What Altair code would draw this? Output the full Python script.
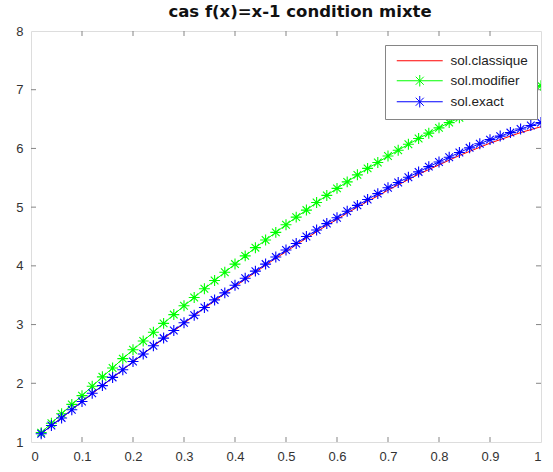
import altair as alt
import pandas as pd

x_vals = [0.02, 0.04, 0.06, 0.08, 0.10, 0.12, 0.14, 0.16, 0.18, 0.20,
          0.22, 0.24, 0.26, 0.28, 0.30, 0.32, 0.34, 0.36, 0.38, 0.40,
          0.42, 0.44, 0.46, 0.48, 0.50, 0.52, 0.54, 0.56, 0.58, 0.60,
          0.62, 0.64, 0.66, 0.68, 0.70, 0.72, 0.74, 0.76, 0.78, 0.80,
          0.82, 0.84, 0.86, 0.88, 0.90, 0.92, 0.94, 0.96, 0.98, 1.00]

sol_classique = [1.14, 1.28, 1.41, 1.55, 1.69, 1.82, 1.96, 2.09, 2.23, 2.36,
                 2.50, 2.63, 2.76, 2.89, 3.02, 3.15, 3.28, 3.40, 3.53, 3.65,
                 3.77, 3.89, 4.01, 4.13, 4.24, 4.36, 4.47, 4.58, 4.69, 4.79,
                 4.90, 5.00, 5.10, 5.19, 5.29, 5.38, 5.47, 5.56, 5.64, 5.72,
                 5.80, 5.88, 5.95, 6.02, 6.09, 6.15, 6.21, 6.27, 6.32, 6.37]

sol_modifier = [1.16, 1.32, 1.48, 1.64, 1.79, 1.95, 2.11, 2.26, 2.42, 2.57,
                2.72, 2.87, 3.02, 3.17, 3.32, 3.46, 3.61, 3.75, 3.89, 4.03,
                4.17, 4.31, 4.44, 4.57, 4.70, 4.83, 4.95, 5.08, 5.20, 5.32,
                5.43, 5.55, 5.66, 5.76, 5.87, 5.97, 6.07, 6.17, 6.26, 6.35,
                6.44, 6.52, 6.60, 6.68, 6.76, 6.83, 6.89, 6.96, 7.01, 7.07]

sol_exact = [1.14, 1.28, 1.41, 1.55, 1.69, 1.83, 1.96, 2.10, 2.23, 2.37,
             2.50, 2.64, 2.77, 2.90, 3.03, 3.16, 3.29, 3.42, 3.54, 3.67,
             3.79, 3.91, 4.03, 4.15, 4.27, 4.38, 4.50, 4.61, 4.72, 4.82,
             4.93, 5.03, 5.13, 5.23, 5.33, 5.42, 5.51, 5.60, 5.69, 5.77,
             5.85, 5.93, 6.01, 6.08, 6.15, 6.21, 6.27, 6.33, 6.39, 6.44]

series_names = ["sol.classique", "sol.modifier", "sol.exact"]
series_colors = ["#ff0000", "#00ff00", "#0000ff"]
x_tick_values = [0, 0.1, 0.2, 0.3, 0.4, 0.5, 0.6, 0.7, 0.8, 0.9, 1]
y_tick_values = [1, 2, 3, 4, 5, 6, 7, 8]
title_text = "cas f(x)=x-1 condition mixte"

W, H = 510, 411
FONT = "Liberation Sans"
TITLE_FONT = "DejaVu Sans"
AXIS_GREY = "#858585"
TICK_LEN = 5

STAR = "M0,-1V1M-1,0H1M-0.7,-0.7L0.7,0.7M-0.7,0.7L0.7,-0.7"
LEG_LINE = "M-4,0H4"
LEG_STAR = "M-4,0H4M0,-1V1M-0.7,-0.7L0.7,0.7M-0.7,0.7L0.7,-0.7"

df_c = pd.DataFrame({"x": x_vals, "y": sol_classique})
df_m = pd.DataFrame({"x": x_vals, "y": sol_modifier})
df_e = pd.DataFrame({"x": x_vals, "y": sol_exact})
df_leg = pd.DataFrame({"x": [5, 5, 5], "y": [4, 4, 4], "series": series_names})
df_xt = pd.DataFrame({"t": x_tick_values[1:-1]})
df_yt = pd.DataFrame({"t": y_tick_values[1:-1]})

xs = alt.Scale(domain=[0, 1], nice=False, zero=False)
ys = alt.Scale(domain=[1, 8], nice=False, zero=False)
x_axis = alt.Axis(values=x_tick_values, format=".1~f", title=None, ticks=False,
                  domain=False, grid=False, labelFont=FONT, labelFontSize=13,
                  labelColor="#333333", labelPadding=8)
y_axis = alt.Axis(values=y_tick_values, format="d", title=None, ticks=False,
                  domain=False, grid=False, labelFont=FONT, labelFontSize=13,
                  labelColor="#333333", labelPadding=8)


def X(f):
    return alt.X(f, type="quantitative", scale=xs, axis=x_axis)


def Y(f):
    return alt.Y(f, type="quantitative", scale=ys, axis=y_axis)


red_line = alt.Chart(df_c).mark_line(color=series_colors[0], strokeWidth=1, clip=True).encode(
    x=X("x"), y=Y("y"))
green_line = alt.Chart(df_m).mark_line(color=series_colors[1], strokeWidth=1, clip=True).encode(
    x=X("x"), y=Y("y"))
green_pts = alt.Chart(df_m).mark_point(shape=STAR, size=120, filled=False, color=series_colors[1],
                                       strokeWidth=1.1, opacity=1, clip=True).encode(x=X("x"), y=Y("y"))
blue_line = alt.Chart(df_e).mark_line(color=series_colors[2], strokeWidth=1, clip=True).encode(
    x=X("x"), y=Y("y"))
blue_pts = alt.Chart(df_e).mark_point(shape=STAR, size=120, filled=False, color=series_colors[2],
                                      strokeWidth=1.1, opacity=1, clip=True).encode(x=X("x"), y=Y("y"))


def make_legend():
    return alt.Legend(
        title=None, orient="none", legendX=354, legendY=14,
        strokeColor=AXIS_GREY, fillColor="white", padding=9,
        labelFont=FONT, labelFontSize=13.5, labelColor="#222222",
        symbolSize=132, symbolStrokeWidth=1, symbolOffset=19,
        labelOffset=24, rowPadding=5, symbolFillColor="transparent",
        symbolStrokeColor="#000000")


legend_layer = alt.Chart(df_leg).mark_point(filled=False, size=132, strokeWidth=1, opacity=1,
                                            clip=True).encode(
    x=X("x"), y=Y("y"),
    color=alt.Color("series:N", scale=alt.Scale(domain=series_names, range=series_colors),
                    legend=make_legend()),
    shape=alt.Shape("series:N", scale=alt.Scale(domain=series_names,
                                                range=[LEG_LINE, LEG_STAR, LEG_STAR]),
                    legend=make_legend()),
)

tick_style = dict(color=AXIS_GREY, strokeWidth=1)
xt_bottom = alt.Chart(df_xt).mark_rule(**tick_style).encode(
    x=X("t"), y=alt.value(H), y2=alt.value(H - TICK_LEN))
xt_top = alt.Chart(df_xt).mark_rule(**tick_style).encode(
    x=X("t"), y=alt.value(0), y2=alt.value(TICK_LEN))
yt_left = alt.Chart(df_yt).mark_rule(**tick_style).encode(
    y=Y("t"), x=alt.value(0), x2=alt.value(TICK_LEN))
yt_right = alt.Chart(df_yt).mark_rule(**tick_style).encode(
    y=Y("t"), x=alt.value(W), x2=alt.value(W - TICK_LEN))

chart = alt.layer(
    xt_bottom, xt_top, yt_left, yt_right,
    red_line, green_line, green_pts, blue_line, blue_pts, legend_layer
).properties(
    width=W, height=H,
    title=alt.Title(title_text, font=TITLE_FONT, fontSize=16.5, fontWeight="bold",
                    color="#111111", anchor="middle", offset=5, dx=14),
    autosize=alt.AutoSizeParams(type="none"),
    padding={"left": 31, "top": 31, "right": 12, "bottom": 30},
).configure_view(
    stroke=AXIS_GREY, strokeWidth=1.2
).configure(background="white")

chart.save("out.html", embed_options={"renderer": "svg", "actions": False})
